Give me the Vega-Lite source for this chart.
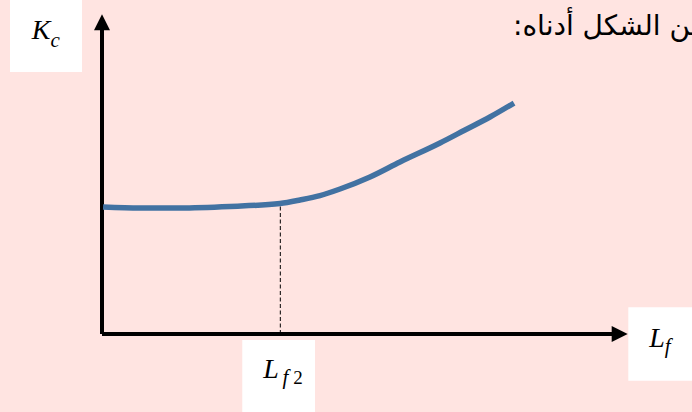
{
  "$schema": "https://vega.github.io/schema/vega-lite/v6.json",
  "width": 526,
  "height": 320,
  "autosize": {"type": "none"},
  "padding": {"left": 102, "top": 14, "right": 64, "bottom": 78},
  "background": "#ffe4e1",
  "config": {"view": {"stroke": null}},
  "datasets": {
    "curve": [
      {"x": 0.02, "y": 2.381},
      {"x": 0.722, "y": 2.363},
      {"x": 1.483, "y": 2.363},
      {"x": 2.433, "y": 2.391},
      {"x": 3.384, "y": 2.447},
      {"x": 3.764, "y": 2.513},
      {"x": 4.144, "y": 2.595},
      {"x": 4.525, "y": 2.719},
      {"x": 5.095, "y": 2.944},
      {"x": 5.665, "y": 3.225},
      {"x": 6.426, "y": 3.581},
      {"x": 6.901, "y": 3.825},
      {"x": 7.376, "y": 4.069},
      {"x": 7.833, "y": 4.331}
    ],
    "axes": [
      {"x": 0, "y": 0, "x2": 0, "y2": 5.7},
      {"x": 0, "y": 0, "x2": 9.7, "y2": 0}
    ],
    "headUp": [{"x": 0, "y": 5.845}],
    "headRight": [{"x": 9.842, "y": 0}],
    "marker": [{"x": 3.39, "y": 0, "y2": 2.447}],
    "boxes": [
      {"x": -1.749, "x2": -0.38, "y": 6.263, "y2": 4.913},
      {"x": 10.006, "x2": 11.217, "y": 0.5, "y2": -0.876},
      {"x": 2.667, "x2": 4.049, "y": -0.1125, "y2": -1.4625}
    ],
    "labels": [
      {"x": -1.337, "y": 5.526, "text": "K"},
      {"x": 3.067, "y": -0.831, "text": "L"},
      {"x": 10.405, "y": -0.238, "text": "L"}
    ],
    "subscripts": [
      {"x": -0.98, "y": 5.39, "text": "c"},
      {"x": 3.43, "y": -0.943, "text": "f"},
      {"x": 10.7, "y": -0.356, "text": "f"}
    ],
    "subscriptDigits": [
      {"x": 3.635, "y": -0.943, "text": "2"}
    ],
    "note": [{"x": 7.814, "y": 5.606, "text": "من الشكل أدناه:\u200f"}]
  },
  "layer": [
    {
      "data": {"name": "boxes"},
      "mark": {"type": "rect", "fill": "#ffffff"},
      "encoding": {
        "x": {"field": "x", "type": "quantitative", "scale": {"domain": [0, 10], "nice": false, "zero": false}, "axis": null},
        "x2": {"field": "x2"},
        "y": {"field": "y", "type": "quantitative", "scale": {"domain": [0, 6], "nice": false, "zero": false}, "axis": null},
        "y2": {"field": "y2"}
      }
    },
    {
      "data": {"name": "axes"},
      "mark": {"type": "rule", "stroke": "#000000", "strokeWidth": 4},
      "encoding": {
        "x": {"field": "x", "type": "quantitative"},
        "x2": {"field": "x2"},
        "y": {"field": "y", "type": "quantitative"},
        "y2": {"field": "y2"}
      }
    },
    {
      "data": {"name": "headUp"},
      "mark": {"type": "point", "shape": "M0,-1L1,1L-1,1Z", "size": 256, "filled": true, "color": "#000000", "opacity": 1},
      "encoding": {
        "x": {"field": "x", "type": "quantitative"},
        "y": {"field": "y", "type": "quantitative"}
      }
    },
    {
      "data": {"name": "headRight"},
      "mark": {"type": "point", "shape": "M1,0L-1,-1L-1,1Z", "size": 256, "filled": true, "color": "#000000", "opacity": 1},
      "encoding": {
        "x": {"field": "x", "type": "quantitative"},
        "y": {"field": "y", "type": "quantitative"}
      }
    },
    {
      "data": {"name": "marker"},
      "mark": {"type": "rule", "stroke": "#000000", "strokeWidth": 1, "strokeDash": [4, 2.5]},
      "encoding": {
        "x": {"field": "x", "type": "quantitative"},
        "y": {"field": "y", "type": "quantitative"},
        "y2": {"field": "y2"}
      }
    },
    {
      "data": {"name": "curve"},
      "mark": {"type": "line", "stroke": "#4272a2", "strokeWidth": 5.5, "interpolate": "monotone", "strokeCap": "butt"},
      "encoding": {
        "x": {"field": "x", "type": "quantitative"},
        "y": {"field": "y", "type": "quantitative"}
      }
    },
    {
      "data": {"name": "labels"},
      "mark": {"type": "text", "font": "Liberation Serif", "fontStyle": "italic", "fontSize": 28, "align": "left", "baseline": "alphabetic", "color": "#000000"},
      "encoding": {
        "x": {"field": "x", "type": "quantitative"},
        "y": {"field": "y", "type": "quantitative"},
        "text": {"field": "text"}
      }
    },
    {
      "data": {"name": "subscripts"},
      "mark": {"type": "text", "font": "Liberation Serif", "fontStyle": "italic", "fontSize": 21, "align": "left", "baseline": "alphabetic", "color": "#000000"},
      "encoding": {
        "x": {"field": "x", "type": "quantitative"},
        "y": {"field": "y", "type": "quantitative"},
        "text": {"field": "text"}
      }
    },
    {
      "data": {"name": "subscriptDigits"},
      "mark": {"type": "text", "font": "Liberation Serif", "fontSize": 19, "align": "left", "baseline": "alphabetic", "color": "#000000"},
      "encoding": {
        "x": {"field": "x", "type": "quantitative"},
        "y": {"field": "y", "type": "quantitative"},
        "text": {"field": "text"}
      }
    },
    {
      "data": {"name": "note"},
      "mark": {"type": "text", "font": "DejaVu Sans", "fontSize": 28, "align": "left", "baseline": "alphabetic", "color": "#000000"},
      "encoding": {
        "x": {"field": "x", "type": "quantitative"},
        "y": {"field": "y", "type": "quantitative"},
        "text": {"field": "text"}
      }
    }
  ]
}
